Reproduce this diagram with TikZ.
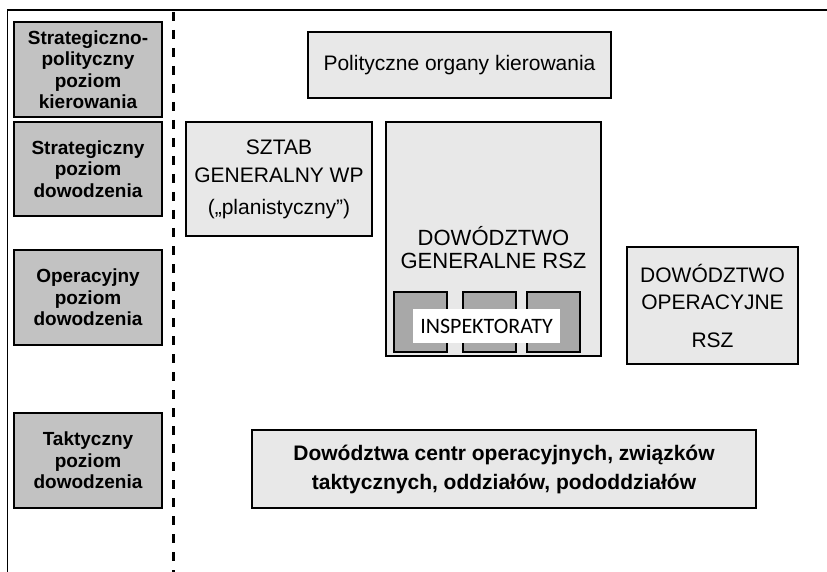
\documentclass[tikz,border=0pt]{standalone}
\usepackage{fontspec}
\setmainfont{Liberation Sans}
\newfontfamily\inspfont{Carlito}
\usepackage{tikz}

\definecolor{boxgray}{gray}{0.91}
\definecolor{levelgray}{gray}{0.76}
\definecolor{inspgray}{gray}{0.66}

\begin{document}
\begin{tikzpicture}[x=1pt,y=-1pt,
    level/.style={draw, line width=1.8pt, fill=levelgray, minimum width=148pt,
      align=center, font=\bfseries\fontsize{19}{21.5}\selectfont},
    unit/.style={draw, line width=1.8pt, fill=boxgray, align=center,
      font=\fontsize{21}{28}\selectfont},
    inspbox/.style={draw, line width=1.2pt, fill=inspgray,
      minimum width=53pt, minimum height=60pt}]

  \useasboundingbox (0,0) rectangle (827,572);

  % --- page frame ---------------------------------------------------
  \draw[line width=0.8pt] (7,10) -- (7,572);
  \draw[line width=2pt] (7,10) -- (827,10);

  % --- command levels (left column) -----------------------------------
  \node[level, minimum height=95pt] (lvlpol) at (88,69.5)
        {Strategiczno-\\polityczny\\poziom\\kierowania};
  \node[level, minimum height=94pt] (lvlstr) at (88,169)
        {Strategiczny\\poziom\\dowodzenia};
  \node[level, minimum height=95pt] (lvlop) at (88,297.5)
        {Operacyjny\\poziom\\dowodzenia};
  \node[level, minimum height=95pt] (lvltak) at (88,460.5)
        {Taktyczny\\poziom\\dowodzenia};

  % --- separator ----------------------------------------------------
  \coordinate (septop) at (173,12);
  \coordinate (sepbot) at (173,572);
  \draw[line width=3pt, dash pattern=on 9pt off 9pt] (septop) -- (sepbot);

  % --- bodies ---------------------------------------------------------
  \node[unit, minimum width=303pt, minimum height=66pt] (polit) at (459.5,65)
        {Polityczne organy kierowania};

  \node[unit, minimum width=186pt, minimum height=114pt] (sztab) at (279,179)
        {SZTAB\\GENERALNY WP\\[4pt](,,planistyczny'')};

  \node[unit, minimum width=215pt, minimum height=234pt] (dgen) at (493.5,239) {};
  \node[font=\fontsize{22}{23}\selectfont, align=center] (dgentxt) at (493.5,248)
        {DOWÓDZTWO\\GENERALNE RSZ};

  % inspectorates inside the general command
  \foreach \cx [count=\i] in {420.5,489.5,553.5}
      \node[inspbox] (insp\i) at (\cx,322) {};
  \node[fill=white, minimum width=147pt, minimum height=34pt,
        font=\inspfont\fontsize{22}{22}\selectfont] (insptxt) at (486.5,326)
        {INSPEKTORATY};

  \node[unit, minimum width=171pt, minimum height=117pt,
        font=\fontsize{21}{27}\selectfont] (dop) at (712.5,305.5)
        {DOWÓDZTWO\\OPERACYJNE\\[11pt]RSZ};

  \node[unit, minimum width=504pt, minimum height=78pt,
        font=\bfseries\fontsize{21}{29}\selectfont] (tact) at (504,469)
        {Dowództwa centr operacyjnych, związków\\taktycznych, oddziałów, pododdziałów};

\end{tikzpicture}
\end{document}
